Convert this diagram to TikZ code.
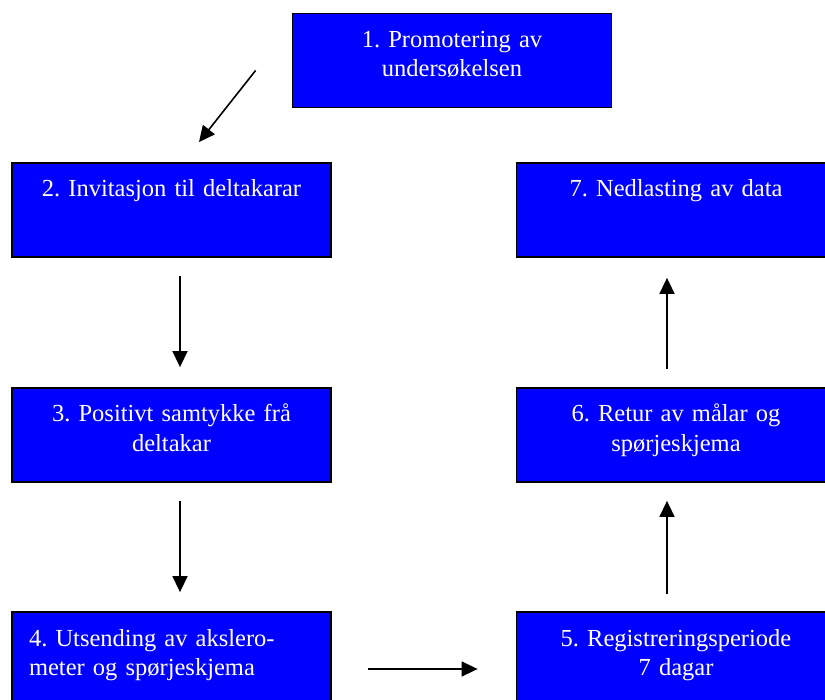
\documentclass[tikz,border=0pt]{standalone}
\usepackage{fontspec}
\setmainfont{Liberation Serif}
\usetikzlibrary{arrows.meta}

\begin{document}
\frenchspacing
\begin{tikzpicture}
    [ x=1pt, y=-1pt,
      boks/.style={rectangle,draw=black,line width=1.8pt,fill=blue,text=white,
                   font=\fontsize{24.5}{29.5}\selectfont,inner sep=0pt,
                   text width=319pt,align=center,text height=34pt,text depth=60pt},
      venstre/.style={boks,align=left,inner xsep=17pt,text width=285pt},
      pil/.style={line width=1.6pt,-{Triangle[length=16pt,width=15pt]}} ]

    \useasboundingbox (0,0) rectangle (825,700);

    \node (b1) at (452,60.5) [boks] {1. Promotering av\\undersøkelsen};
    \node (b2) at (171.5,210) [boks] {2. Invitasjon til deltakarar};
    \node (b3) at (171.5,435) [boks] {3. Positivt samtykke frå\\deltakar};
    \node (b4) at (171.5,659) [venstre] {4. Utsending av aksle\-ro-\\meter og spørjeskjema};
    \node (b5) at (676,659) [boks] {5. Registreringsperiode\\7 dagar};
    \node (b6) at (676,435) [boks] {6. Retur av målar og\\spørjeskjema};
    \node (b7) at (676,210) [boks] {7. Nedlasting av data};

    \draw[pil] ([xshift=-36pt,yshift=-10pt]b1.west) -- ([xshift=27.5pt,yshift=20pt]b2.north);
    \draw[pil,shorten <=18pt,shorten >=20pt] ([xshift=8.5pt]b2.south) -- ([xshift=8.5pt]b3.north);
    \draw[pil,shorten <=18pt,shorten >=19pt] ([xshift=8.5pt]b3.south) -- ([xshift=8.5pt]b4.north);
    \draw[pil,shorten <=36pt,shorten >=38pt] ([yshift=-10pt]b4.east) -- ([yshift=-10pt]b5.west);
    \draw[pil,shorten <=17pt,shorten >=18pt] ([xshift=-9pt]b5.north) -- ([xshift=-9pt]b6.south);
    \draw[pil,shorten <=18pt,shorten >=20pt] ([xshift=-9pt]b6.north) -- ([xshift=-9pt]b7.south);

\end{tikzpicture}
\end{document}
